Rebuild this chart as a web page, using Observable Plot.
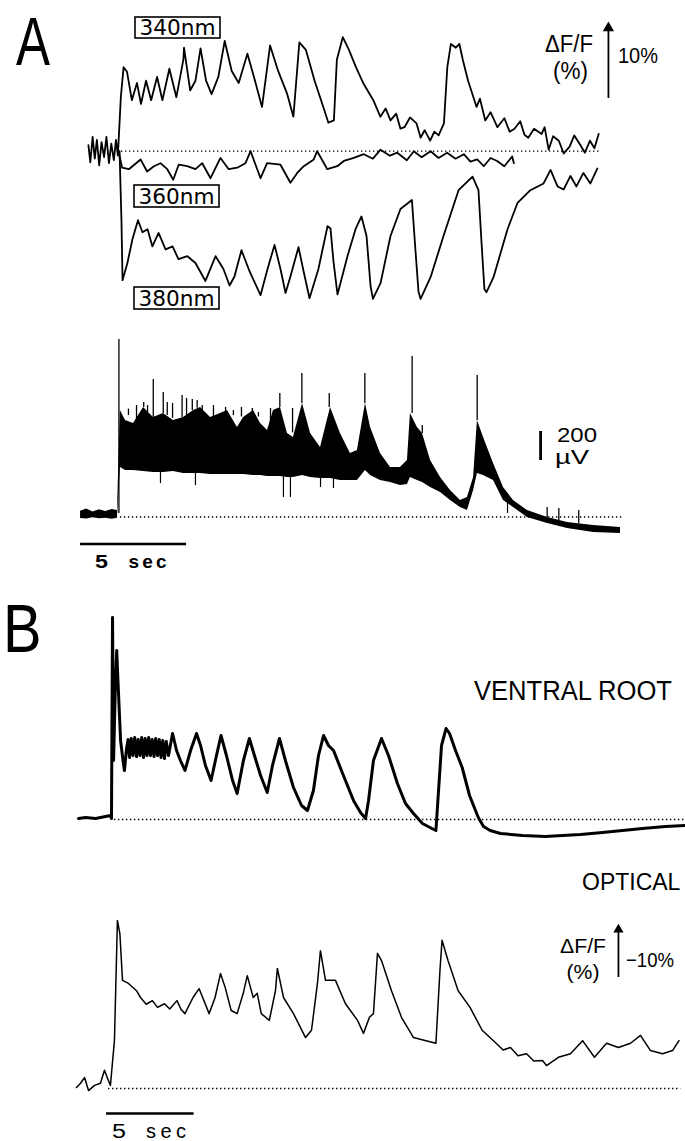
<!DOCTYPE html>
<html>
<head>
<meta charset="utf-8">
<script src="https://cdn.jsdelivr.net/npm/d3@7"></script>
<script src="https://cdn.jsdelivr.net/npm/@observablehq/plot@0.6"></script>
<style>
  html, body { margin: 0; padding: 0; background: #fff; }
  #fig { position: relative; width: 685px; height: 1141px; overflow: hidden; background: #fff; }
</style>
</head>
<body>
<div id="fig"></div>
<script>
// ---------------- DATA ----------------
// Panel A, fluorescence traces: [time (s from stimulus), ΔF/F (%)]
const trace340 = [[-1.42,0.8],[-1.33,-1.5],[-1.22,1.9],[-1.12,-1.0],[-1.02,1.5],[-0.91,-1.9],[-0.80,1.2],[-0.68,-0.8],[-0.57,1.9],[-0.45,-1.6],[-0.34,1.0],[-0.22,-1.2],[-0.12,1.5],[-0.03,-0.6],[0.11,7.2],[0.24,11.2],[0.40,10.6],[0.63,6.8],[0.87,9.1],[1.06,6.3],[1.30,9.4],[1.54,6.8],[1.82,9.9],[2.07,6.8],[2.40,11.0],[2.73,7.2],[3.06,12.2],[3.09,13.8],[3.38,8.1],[3.63,9.4],[3.87,13.7],[4.13,9.4],[4.39,7.6],[4.71,9.9],[5.01,14.7],[5.34,10.7],[5.67,9.1],[6.08,13.0],[6.39,9.9],[6.77,5.9],[7.15,14.1],[7.53,10.7],[7.96,7.6],[8.25,4.6],[8.53,14.5],[8.84,13.5],[9.25,9.4],[9.66,5.9],[9.90,3.8],[10.16,4.1],[10.30,12.2],[10.58,15.2],[10.87,13.5],[11.20,11.2],[11.54,9.1],[12.02,6.8],[12.35,4.6],[12.6,5.7],[12.83,4.1],[13.1,5.0],[13.3,3.0],[13.49,3.2],[13.75,4.5],[14.06,3.7],[14.25,1.8],[14.44,2.8],[14.7,1.4],[14.9,2.6],[15.10,2.1],[15.35,3.7],[15.51,11.2],[15.68,14.3],[15.91,13.8],[16.08,14.3],[16.24,12.2],[16.49,9.4],[16.89,5.9],[17.05,7.0],[17.30,4.1],[17.55,5.2],[17.87,3.2],[18.2,4.4],[18.45,2.6],[18.68,3.0],[18.95,4.0],[19.15,2.2],[19.33,1.8],[19.6,3.0],[19.96,2.3],[20.1,3.2],[20.29,0.2],[20.5,2.0],[20.77,1.4],[21.0,-0.3],[21.28,0.6],[21.5,2.1],[21.77,0.9],[22.0,-0.2],[22.24,1.4],[22.45,0.4],[22.65,2.3]];
const trace360 = [[0,0],[0.17,-2.2],[0.49,-2.4],[1.04,-1.1],[1.35,-2.7],[1.67,-2.0],[1.98,-1.6],[2.30,-2.4],[2.58,-3.8],[2.84,-1.8],[3.24,-2.0],[3.63,-2.4],[3.95,-1.6],[4.34,-3.6],[4.81,-0.9],[5.20,-2.4],[5.60,-2.2],[5.99,-1.6],[6.23,0],[6.70,-3.6],[7.01,-1.6],[7.64,-1.8],[8.11,-4.2],[8.43,-2.9],[8.74,-2.0],[9.21,-1.1],[9.37,0],[9.85,-2.4],[10.32,-2.0],[10.63,-1.3],[11.1,-0.9],[11.57,-0.4],[12.0,-1.0],[12.36,0.2],[12.8,-0.6],[13.15,-0.2],[13.6,-1.2],[13.93,0],[14.3,-0.8],[14.72,0],[15.1,-0.9],[15.50,-0.2],[15.9,-1.0],[16.29,-0.4],[16.6,-1.4],[16.92,-1.1],[17.23,-2.0],[17.55,-0.9],[17.86,-1.3],[18.2,-2.0],[18.57,-0.7],[18.65,-1.6]];
const trace380 = [[0.05,0],[0.14,-9.3],[0.19,-17.2],[0.42,-14.9],[0.66,-11.7],[0.92,-9.2],[1.13,-10.8],[1.37,-10.4],[1.60,-12.7],[1.89,-10.9],[2.22,-13.1],[2.55,-12.7],[2.83,-14.4],[3.25,-14.0],[3.63,-14.9],[4.10,-17.3],[4.58,-14.0],[4.95,-15.7],[5.24,-17.9],[5.47,-16.7],[5.80,-13.2],[6.18,-16.0],[6.70,-19.2],[7.03,-15.7],[7.36,-12.5],[7.64,-15.7],[7.88,-18.9],[8.11,-16.7],[8.49,-12.8],[8.73,-16.0],[9.01,-19.6],[9.43,-15.7],[9.86,-10.0],[10.0,-10.3],[10.14,-14.7],[10.33,-19.1],[10.80,-14.0],[11.18,-10.4],[11.46,-8.7],[11.70,-11.3],[11.89,-18.0],[12.00,-19.7],[12.36,-17.6],[12.83,-11.3],[13.30,-7.7],[13.84,-6.5],[14.01,-13.3],[14.15,-18.7],[14.25,-19.7],[14.72,-16.8],[15.33,-11.3],[16.04,-5.2],[16.70,-3.4],[16.98,-5.2],[17.12,-12.0],[17.26,-18.4],[17.36,-18.8],[17.69,-16.8],[18.35,-10.4],[18.82,-6.9],[19.43,-5.2],[20.05,-4.3],[20.38,-2.5],[20.71,-4.7],[21.0,-5.1],[21.32,-3.3],[21.60,-4.7],[21.93,-2.9],[22.26,-4.3],[22.59,-2.3]];

// Panel A, ventral-root electrical record (µV): [time, lower envelope, upper envelope]
const elecBand = [[-1.79,-10,40],[-1.5,-14,55],[-1.2,-6,35],[-0.9,-12,50],[-0.6,-8,38],[-0.3,-15,52],[-0.05,-8,45],[0.09,342,735],[0.33,321,666],[0.71,321,645],[1.18,314,756],[1.65,307,687],[2.12,307,714],[2.59,314,666],[3.07,300,687],[3.54,300,735],[3.87,300,756],[4.34,293,687],[4.81,293,714],[5.14,293,735],[5.61,293,618],[5.90,293,687],[6.37,286,735],[6.70,286,645],[7.03,279,597],[7.31,279,735],[7.64,279,756],[7.97,273,576],[8.25,273,549],[8.68,286,783],[9.06,273,576],[9.53,266,480],[10.0,266,756],[10.47,252,576],[10.94,252,438],[11.27,252,459],[11.65,321,783],[11.89,286,618],[12.36,252,438],[12.83,238,342],[13.30,217,342],[13.63,224,390],[13.77,273,714],[14.10,252,618],[14.34,238,576],[14.72,204,390],[15.19,169,273],[15.66,114,183],[16.13,66,114],[16.46,45,135],[16.75,183,273],[16.93,300,666],[17.22,286,549],[17.69,252,369],[18.16,114,204],[18.63,66,114],[19.29,-3,45],[20.24,-45,-3],[21.18,-79,-38],[22.41,-107,-59],[23.68,-114,-72]];
// upward spikes: [time, from µV, to µV]
const elecSpikes = [[0.02,24,1225],[0.47,700,745],[0.85,645,769],[1.19,756,790],[1.37,720,769],[1.64,687,949],[2.11,714,859],[2.30,700,790],[2.55,680,783],[3.00,687,838],[3.21,700,818],[3.48,735,811],[3.71,750,804],[3.95,735,769],[4.48,690,769],[5.05,728,756],[5.42,700,735],[5.80,690,756],[6.31,728,749],[6.60,690,721],[7.17,640,749],[7.61,756,852],[8.21,580,749],[8.65,783,990],[9.94,756,852],[11.62,783,990],[13.85,714,1107],[14.33,576,631],[16.92,666,976],[20.22,-3,66],[20.77,-24,59],[21.71,-45,45]];
// downward spikes: [time, from µV, to µV]
const elecDips = [[1.98,307,231],[3.63,300,217],[7.78,279,135],[8.11,273,135],[9.53,266,204],[10.14,266,197],[18.35,100,24]];

// Panel B, ventral root (relative amplitude): [time, value]
const ventralRoot = [[-1.91,0.5],[-1.51,1],[-0.94,0.5],[-0.37,1.5],[-0.09,2],[-0.03,0.5],[0.03,101],[0.09,29.5],[0.2,69.5],[0.27,84.5],[0.34,69.5],[0.49,39.5],[0.63,29.5],[0.71,24.5],[0.83,35.5],[0.92,40],[1.0,31],[1.1,40.5],[1.2,32],[1.3,41],[1.4,31.5],[1.5,40],[1.6,32],[1.7,41],[1.8,31],[1.9,40.5],[2.0,32],[2.1,41],[2.2,32],[2.3,40],[2.4,31.5],[2.5,40.5],[2.6,32],[2.7,40],[2.8,31],[2.9,39.5],[3.0,30.5],[3.1,39],[3.23,32],[3.46,43],[3.69,34.5],[3.91,29.5],[4.17,24.5],[4.49,34.5],[4.83,43],[5.06,37],[5.34,27],[5.66,19.5],[5.97,32],[6.23,42],[6.54,32],[6.89,19.5],[7.15,13],[7.51,29.5],[7.85,40.5],[8.14,32],[8.49,22],[8.87,13.5],[9.17,27],[9.57,40.5],[9.91,29.5],[10.37,16],[10.83,7],[11.17,4.5],[11.51,14.5],[11.8,32],[12.09,42],[12.37,37],[12.66,34.5],[13.11,24.5],[13.8,9.5],[14.2,3.5],[14.49,0.5],[14.66,9.5],[14.94,29.5],[15.4,40.5],[15.8,32],[16.31,18],[16.77,8],[17.23,3],[17.74,-2],[18.17,-4],[18.51,-5.5],[18.66,14.5],[18.83,37],[19.09,45.5],[19.29,43],[19.63,34.5],[20.01,26],[20.43,12],[20.93,1],[21.23,-3.5],[21.61,-5.5],[22.2,-7],[23.46,-8],[24.77,-8.5],[25.74,-8],[26.77,-7.5],[28.03,-6.5],[29.17,-5.5],[30.31,-4.5],[31.63,-3.5],[32.77,-3]];

// Panel B, optical record: [time, ΔF/F (%)] (negative = drawn upward)
const optical = [[-2.03,-0.2],[-1.8,-1.0],[-1.57,-2.1],[-1.34,0.4],[-1.0,-0.6],[-0.66,-1.0],[-0.43,-3.5],[-0.2,-1.5],[-0.09,-0.6],[0.14,-9.2],[0.31,-32.3],[0.45,-29.8],[0.6,-20.8],[0.94,-20.2],[1.4,-18.8],[1.63,-17.5],[1.95,-16.2],[2.31,-16.9],[2.6,-15.6],[3.0,-16.3],[3.3,-15.3],[3.71,-16.9],[3.95,-15.2],[4.17,-14.4],[4.63,-17.5],[4.98,-19.2],[5.55,-14.4],[5.89,-17.5],[6.2,-22.1],[6.47,-19.4],[6.81,-15.0],[7.15,-14.4],[7.5,-18.3],[7.73,-21.7],[8.07,-17.5],[8.3,-18.3],[8.53,-14.4],[8.99,-13.1],[9.34,-18.8],[9.45,-23.1],[9.8,-17.5],[10.37,-14.4],[11.06,-9.8],[11.4,-11.2],[11.74,-20.2],[11.91,-26.5],[12.2,-20.8],[12.77,-20.8],[13.34,-16.3],[14.03,-13.1],[14.37,-10.6],[14.71,-13.7],[14.94,-14.4],[15.17,-26.0],[15.4,-24.6],[15.97,-18.8],[16.54,-13.7],[17.23,-9.8],[17.94,-9.2],[18.51,-8.7],[18.74,-22.7],[18.86,-28.5],[19.2,-24.6],[19.78,-18.8],[20.46,-15.6],[21.15,-11.2],[21.95,-8.7],[22.35,-7.4],[22.77,-7.9],[23.2,-6.3],[23.69,-6.7],[24.1,-5.3],[24.6,-5.4],[24.83,-4.4],[25.51,-6.0],[26.2,-6.7],[26.89,-9.2],[27.57,-6.0],[28.26,-8.7],[28.94,-7.9],[29.63,-8.7],[30.2,-10.2],[30.77,-7.3],[31.46,-6.7],[32.03,-7.3],[32.4,-9.2]];

// Scale bars (values)
const scaleTimeSec = 5;      // both panels
const scaleDFFpct = 10;      // ΔF/F arrows
const scaleMicroV = 200;     // electrical bar

// ---------------- LAYOUT ----------------
const W = 685;
const fig = document.getElementById("fig");
const pxA = 21.2, onA = 118;          // panel A: px per s, stimulus x
const pxB = 17.5, onB = 111.5;        // panel B
const xDomA = [(0 - onA) / pxA, (W - onA) / pxA];
const xDomB = [(0 - onB) / pxB, (W - onB) / pxB];

function addPlot(top, height, xDom, yDom, marks, reverse = false) {
  const svg = Plot.plot({
    width: W, height, margin: 0,
    x: {domain: xDom, axis: null},
    y: {domain: yDom, axis: null, reverse},
    style: {background: "transparent", overflow: "visible"},
    marks
  });
  svg.style.position = "absolute";
  svg.style.left = "0px";
  svg.style.top = top + "px";
  fig.appendChild(svg);
}
const X = d => d[0], Y = d => d[1];
const dotted = {strokeDasharray: "1.4,2.6", strokeWidth: 1.3, stroke: "black"};

// A top: fluorescence (ΔF/F %), baseline at local y 150.7, 7.5 px per %
addPlot(0, 305, xDomA, [(150.7 - 305) / 7.5, 150.7 / 7.5], [
  Plot.ruleY([0], {x1: 0.14, x2: 22.74, ...dotted}),
  Plot.line(trace340, {x: X, y: Y, stroke: "black", strokeWidth: 1.8}),
  Plot.line(trace360, {x: X, y: Y, stroke: "black", strokeWidth: 1.8}),
  Plot.line(trace380, {x: X, y: Y, stroke: "black", strokeWidth: 1.8}),
  Plot.ruleX([23.11], {y1: 7.03, y2: 7.03 + scaleDFFpct - 1, stroke: "black", strokeWidth: 1.8}),
  Plot.dot([[23.11, 7.03 + scaleDFFpct - 0.6]], {x: X, y: Y, symbol: "triangle", r: 4.2, fill: "black", stroke: "none"})
]);

// A bottom: electrical record (µV), baseline at local y 211.5, 6.9 µV per px
addPlot(305, 275, xDomA, [(211.5 - 275) * 6.9, 211.5 * 6.9], [
  Plot.ruleY([0], {x1: 0.09, x2: 23.76, ...dotted}),
  Plot.areaY(elecBand, {x: d => d[0], y1: d => d[1], y2: d => d[2], fill: "black"}),
  Plot.ruleX(elecSpikes, {x: d => d[0], y1: d => d[1], y2: d => d[2], stroke: "black", strokeWidth: 1.3}),
  Plot.ruleX(elecDips, {x: d => d[0], y1: d => d[1], y2: d => d[2], stroke: "black", strokeWidth: 1.2}),
  Plot.ruleX([19.91], {y1: 390, y2: 390 + scaleMicroV, stroke: "black", strokeWidth: 2.8}),
  Plot.ruleY([-186], {x1: -1.79, x2: -1.79 + scaleTimeSec, stroke: "black", strokeWidth: 2.4})
]);

// B top: ventral root, baseline at local y 239, 2 px per unit
addPlot(580, 260, xDomB, [(239 - 260) / 2, 239 / 2], [
  Plot.ruleY([0], {x1: 0.14, x2: 32.77, ...dotted}),
  Plot.line(ventralRoot, {x: X, y: Y, stroke: "black", strokeWidth: 3})
]);

// B bottom: optical, baseline at local y 248, 5.2 px per %, negative up
addPlot(840, 301, xDomB, [-248 / 5.2, (301 - 248) / 5.2], [
  Plot.ruleY([0], {x1: -0.2, x2: 32.5, ...dotted}),
  Plot.line(optical, {x: X, y: Y, stroke: "black", strokeWidth: 1.5}),
  Plot.ruleX([28.94], {y1: -21.35, y2: -21.35 - scaleDFFpct + 1.2, stroke: "black", strokeWidth: 1.8}),
  Plot.dot([[28.94, -21.35 - scaleDFFpct + 0.8]], {x: X, y: Y, symbol: "triangle", r: 3.8, fill: "black", stroke: "none"}),
  Plot.ruleY([4.8], {x1: -0.31, x2: -0.31 + scaleTimeSec, stroke: "black", strokeWidth: 2.4})
], true);

// ---------------- TEXT ----------------
const ov = d3.select(fig).append("svg").attr("width", W).attr("height", 1141)
  .style("position", "absolute").style("left", "0px").style("top", "0px");
function T(s, x, y, o = {}) {
  const t = ov.append("text").attr("x", x).attr("y", y).text(s)
    .attr("font-family", o.family || "'Liberation Sans', Arial, sans-serif")
    .attr("font-size", o.size || 20)
    .attr("font-weight", o.weight || "normal")
    .attr("text-anchor", o.anchor || "start")
    .attr("fill", "black");
  if (o.len) t.attr("textLength", o.len).attr("lengthAdjust", o.adjust || "spacingAndGlyphs");
  if (o.transform) t.attr("transform", o.transform);
  return t;
}
function boxLabel(s, x, y, w, h) {
  ov.append("rect").attr("x", x).attr("y", y).attr("width", w).attr("height", h)
    .attr("fill", "none").attr("stroke", "black").attr("stroke-width", 1.6);
  T(s, x + w / 2, y + h - 3, {family: "'DejaVu Sans', sans-serif", size: 21, anchor: "middle", len: 76});
}
T("A", 0, 0, {size: 68, transform: "translate(16,65) scale(0.75,1)"});
T("B", 0, 0, {size: 68, transform: "translate(3,652) scale(0.85,1)"});
boxLabel("340nm", 135, 17, 85, 21);
boxLabel("360nm", 134, 185, 85, 22);
boxLabel("380nm", 134, 287, 85, 22);
T("ΔF/F", 545, 52, {size: 23, len: 48});
T("(%)", 570.5, 79, {size: 23, anchor: "middle", len: 35});
T("10%", 618, 63, {size: 22, len: 40});
T("200", 557, 442, {size: 21, len: 40});
T("µV", 555, 464, {size: 21, len: 34});
T("5", 95, 568, {size: 19, weight: "bold", len: 13});
T("sec", 128.5, 568, {size: 19, weight: "bold", len: 38, adjust: "spacing"});
T("VENTRAL ROOT", 474, 700, {size: 27, len: 198});
T("OPTICAL", 582, 890, {size: 23});
T("ΔF/F", 560, 953, {size: 21, len: 46});
T("(%)", 583, 979, {size: 21, anchor: "middle", len: 33});
T("−10%", 626, 967, {size: 21, len: 48});
T("5", 112, 1138, {size: 20, len: 14});
T("sec", 146, 1138, {size: 20, len: 40, adjust: "spacing"});
</script>
</body>
</html>
